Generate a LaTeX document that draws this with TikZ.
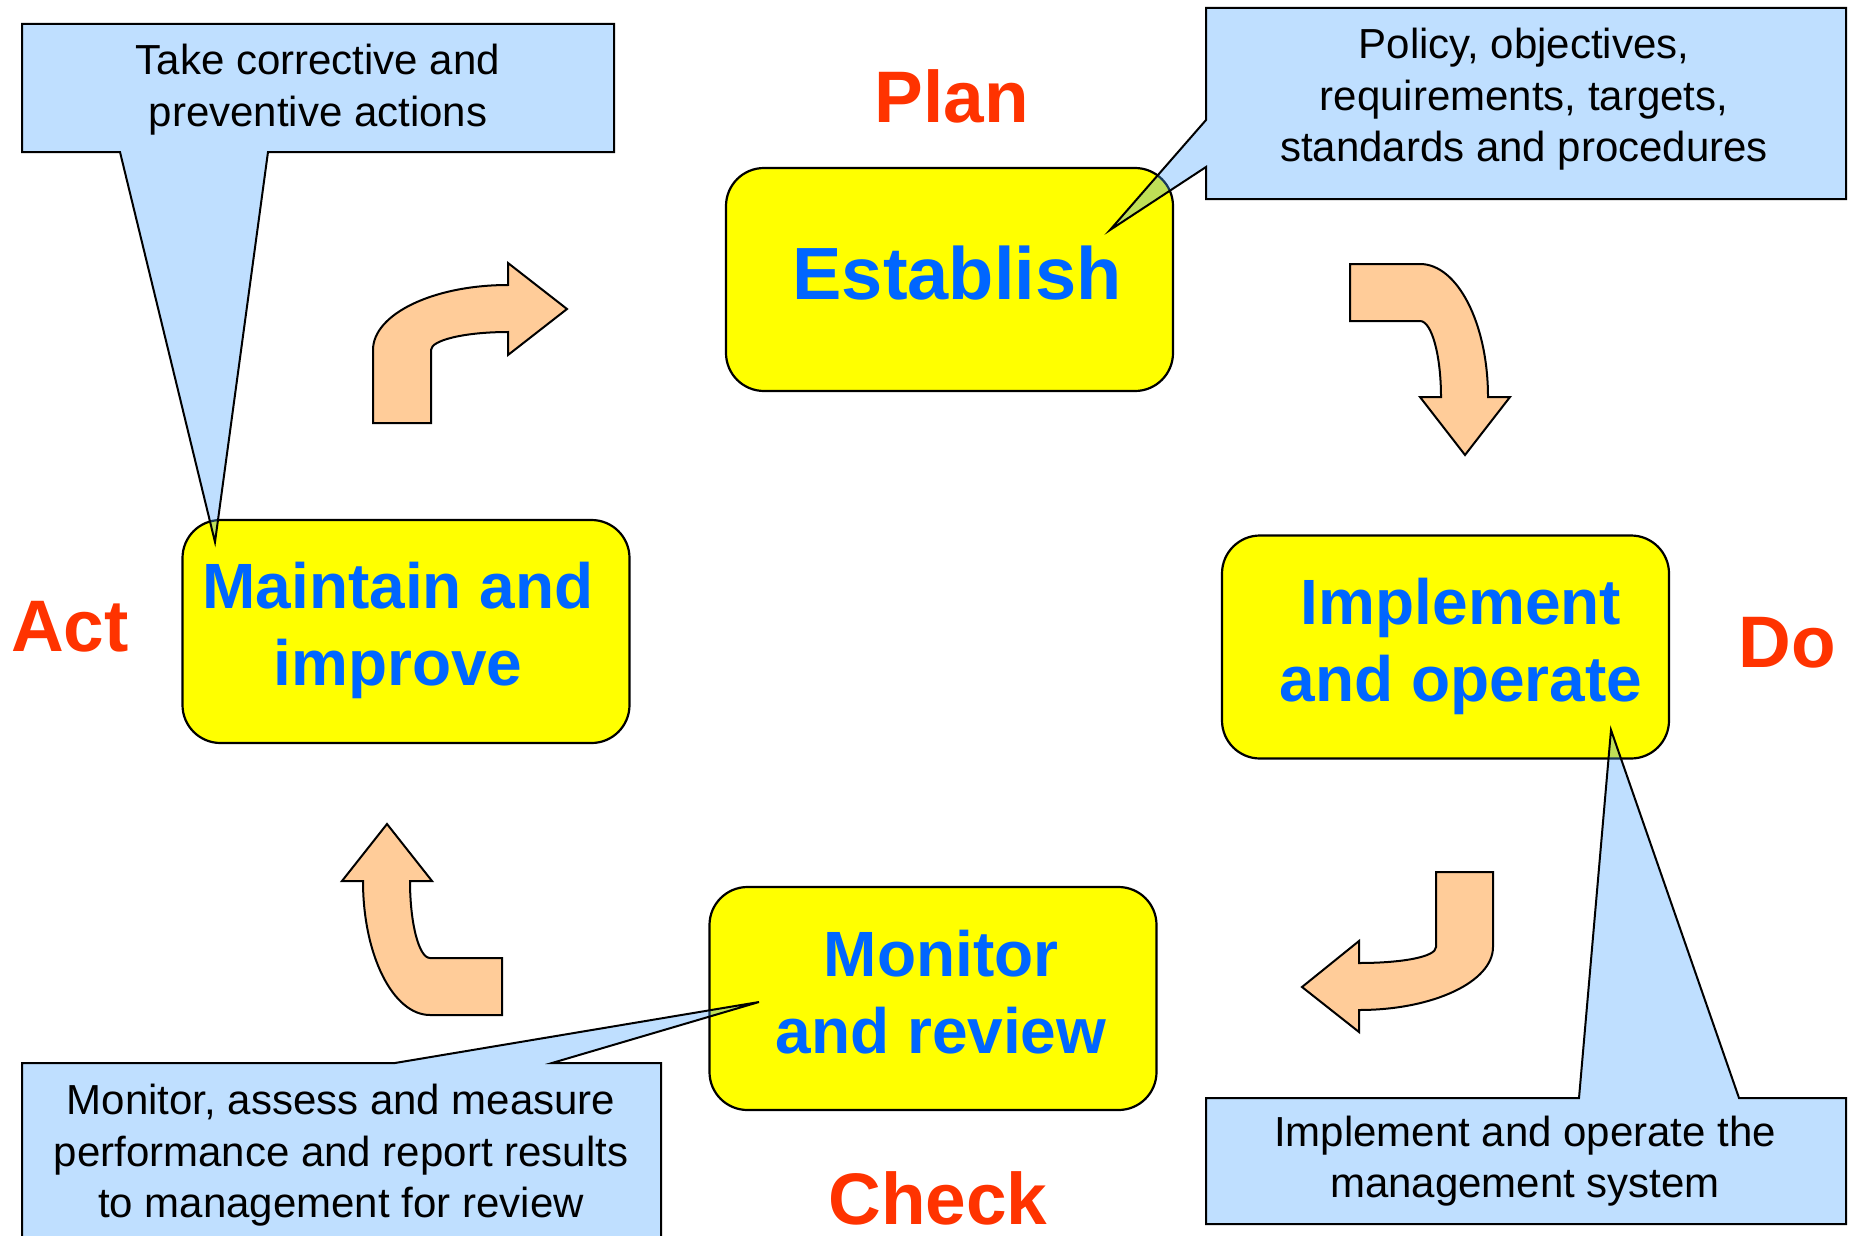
\documentclass[tikz,border=0pt]{standalone}
\usepackage{fontspec}
\setmainfont{Liberation Sans}
\definecolor{stagefill}{RGB}{255,255,0}
\definecolor{stageink}{RGB}{0,102,255}
\definecolor{phaseink}{RGB}{255,51,0}
\definecolor{notefill}{RGB}{68,163,255}
\definecolor{bendfill}{RGB}{255,204,153}
\tikzset{
  stagebox/.style={draw=black, line width=2.2pt, fill=stagefill, rounded corners=38pt,
    minimum width=447pt, minimum height=223pt, inner sep=0pt},
  stagetext/.style={text=stageink, font=\bfseries\fontsize{64}{77}\selectfont,
    align=center, inner sep=0pt},
  phasetext/.style={text=phaseink, font=\bfseries\fontsize{73}{80}\selectfont,
    anchor=base, inner sep=0pt},
  callout/.style={draw=black, line width=2pt, fill=notefill, fill opacity=0.34,
    line join=miter},
  notetext/.style={font=\fontsize{42}{51.5}\selectfont, align=center, inner sep=0pt},
  bentarrow/.style={draw=black, line width=2pt, fill=bendfill, line join=miter},
}
\begin{document}
\begin{tikzpicture}[x=1pt, y=-1pt]
\clip (0,0) rectangle (1852,1236);
\fill[white] (0,0) rectangle (1852,1236);

% curved cycle arrows
\draw[bentarrow] (373,423) -- (373,350)
  .. controls (373,314) and (433.5,285) .. (508,285) -- (508,263) -- (567,309)
  -- (508,355) -- (508,332) .. controls (465.5,332) and (431,340) .. (431,350)
  -- (431,423) -- cycle;
\draw[bentarrow] (1350,264) -- (1420,264)
  .. controls (1457.5,264) and (1488,323.6) .. (1488,397) -- (1510,397) -- (1465,455)
  -- (1420,397) -- (1441,397) .. controls (1441,355) and (1431.6,321) .. (1420,321)
  -- (1350,321) -- cycle;
\draw[bentarrow] (1493,872) -- (1493,947)
  .. controls (1493,981.8) and (1433,1010) .. (1359,1010) -- (1359,1032) -- (1302,987)
  -- (1359,941) -- (1359,963) .. controls (1401.5,963) and (1436,957) .. (1436,947)
  -- (1436,872) -- cycle;
\draw[bentarrow] (502,1015) -- (430,1015)
  .. controls (393,1015) and (363,955) .. (363,881) -- (342,881) -- (387,824)
  -- (432,881) -- (410,881) .. controls (410,923.5) and (419,958) .. (430,958)
  -- (502,958) -- cycle;

% stage boxes
\node[stagebox] (establish) at (949.5,279.5) {};
\node[stagebox] (implement) at (1445.5,647) {};
\node[stagebox] (monitor) at (933,998.5) {};
\node[stagebox] (maintain) at (406,631.5) {};

% callout tips
\coordinate (tipE) at (1110,230);
\coordinate (tipI) at (1611,730);
\coordinate (tipM) at (759,1002);
\coordinate (tipA) at (215,542);

% callouts
\draw[callout] (1206,8) -- (1846,8) -- (1846,199) -- (1206,199) -- (1206,167)
  -- (tipE) -- (1206,120) -- cycle;
\draw[callout] (1206,1098) -- (1579,1098) -- (tipI) -- (1739,1098) -- (1846,1098)
  -- (1846,1224) -- (1206,1224) -- cycle;
\draw[callout] (22,1063) -- (395,1063) -- (tipM) -- (552,1063) -- (661,1063)
  -- (661,1300) -- (22,1300) -- cycle;
\draw[callout] (22,24) -- (614,24) -- (614,152) -- (268,152) -- (tipA)
  -- (120,152) -- (22,152) -- cycle;

% stage texts
\node[stagetext, anchor=base, font=\bfseries\fontsize{74}{80}\selectfont]
  (establishT) at (957,299) {Establish};
\node[stagetext] (implementT) at (1461,646) {Implement\\and operate};
\node[stagetext] (monitorT) at (941,992) {Monitor\\and review};
\node[stagetext] (maintainT) at (398,630) {Maintain and\\improve};

% phase labels
\node[phasetext] (plan) at (952,123) {Plan};
\node[phasetext] (do) at (1787,667) {Do};
\node[phasetext] (check) at (938,1224) {Check};
\node[phasetext] (act) at (70,651) {Act};

% callout texts
\node[notetext] (noteE) at (1524,99.6) {Policy, objectives,\\requirements, targets,\\standards and procedures};
\node[notetext] (noteI) at (1525,1161) {Implement and operate the\\management system};
\node[notetext] (noteM) at (341,1155.5) {Monitor, assess and measure\\performance and report results\\to management for review};
\node[notetext] (noteA) at (318,89.6) {Take corrective and\\preventive actions};
\end{tikzpicture}
\end{document}
